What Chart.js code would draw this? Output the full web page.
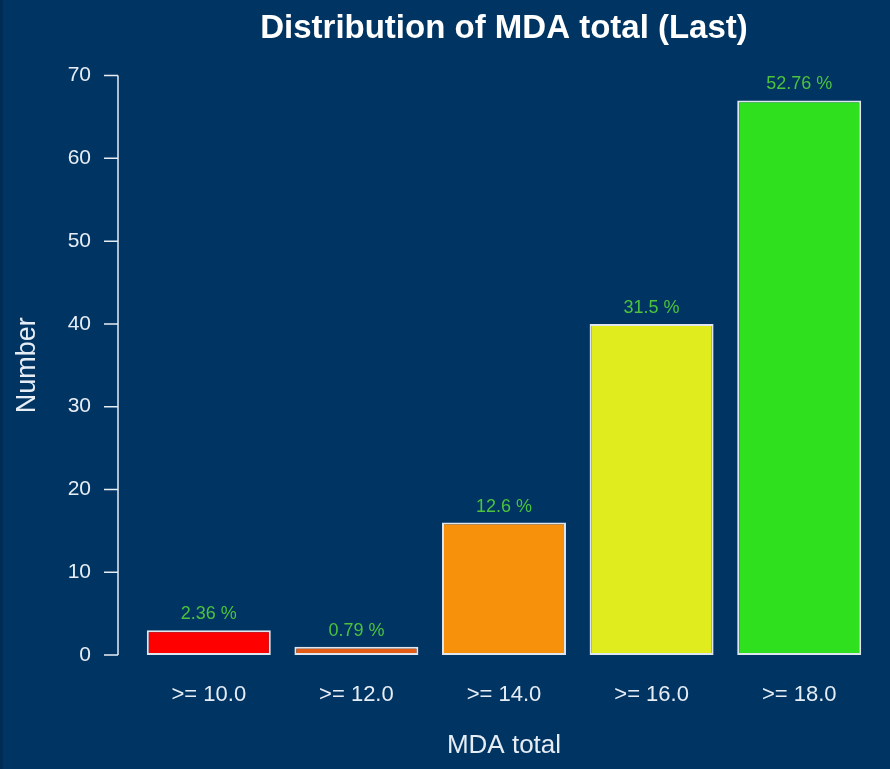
<!DOCTYPE html>
<html>
<head>
<meta charset="utf-8">
<script src="https://cdn.jsdelivr.net/npm/chart.js@4/dist/chart.umd.min.js"></script>
<style>
  html, body { margin: 0; padding: 0; background: #003462; }
  #wrap { width: 890px; height: 769px; position: relative; }
  #wrap::before { content: ""; position: absolute; left: 0; top: 0; width: 3px; height: 769px; background: #002b55; }
</style>
</head>
<body>
<div id="wrap"><canvas id="c" width="890" height="769"></canvas></div>
<script>
const categories = [">= 10.0", ">= 12.0", ">= 14.0", ">= 16.0", ">= 18.0"];
const counts = [3, 1, 16, 40, 67];
const percentLabels = ["2.36 %", "0.79 %", "12.6 %", "31.5 %", "52.76 %"];
const barColors = ["#ff0000", "#e35b14", "#f7900a", "#e0ec1e", "#2ee01e"];
const yTicks = [0, 10, 20, 30, 40, 50, 60, 70];

const FONT = "'Liberation Sans', Arial, sans-serif";
const AXIS_COLOR = "#e6edf5";

const axisPlugin = {
  id: 'rAxis',
  afterDraw(chart) {
    const ctx = chart.ctx;
    const y = chart.scales.y;
    const xAxis = 118;
    ctx.save();
    ctx.strokeStyle = AXIS_COLOR;
    ctx.lineWidth = 1.5;
    ctx.beginPath();
    ctx.moveTo(xAxis, y.getPixelForValue(yTicks[0]));
    ctx.lineTo(xAxis, y.getPixelForValue(yTicks[yTicks.length - 1]));
    yTicks.forEach(v => {
      const py = y.getPixelForValue(v);
      ctx.moveTo(xAxis - 14, py);
      ctx.lineTo(xAxis, py);
    });
    ctx.stroke();
    ctx.restore();
  },
  afterDatasetsDraw(chart) {
    const ctx = chart.ctx;
    const meta = chart.getDatasetMeta(0);
    ctx.save();
    ctx.fillStyle = "#4cc23e";
    ctx.font = "18px " + FONT;
    ctx.textAlign = "center";
    ctx.textBaseline = "middle";
    meta.data.forEach((bar, i) => {
      ctx.fillText(percentLabels[i], bar.x, bar.y - 16);
    });
    ctx.restore();
  }
};

new Chart(document.getElementById('c'), {
  type: 'bar',
  data: {
    labels: categories,
    datasets: [{
      data: counts,
      backgroundColor: barColors,
      borderColor: "#dfe6ee",
      borderWidth: 2,
      borderSkipped: false,
      barPercentage: 0.84,
      categoryPercentage: 1.0
    }]
  },
  plugins: [axisPlugin],
  options: {
    responsive: false,
    animation: false,
    events: [],
    layout: { padding: { left: 0, right: 17, top: 0, bottom: 0 } },
    plugins: {
      legend: { display: false },
      tooltip: { enabled: false },
      title: {
        display: true,
        text: "Distribution of MDA total (Last)",
        color: "#ffffff",
        fullSize: false,
        font: { family: FONT, size: 33, weight: 'bold' },
        padding: { top: 9, bottom: 27 }
      }
    },
    scales: {
      x: {
        grid: { display: false, drawTicks: false },
        border: { display: false },
        ticks: { color: AXIS_COLOR, font: { family: FONT, size: 22 }, padding: 27, maxRotation: 0 },
        title: { display: true, text: "MDA total", color: AXIS_COLOR, font: { family: FONT, size: 26 }, padding: { top: 0, bottom: 8 } },
        afterFit(scale) { scale.height = 114; }
      },
      y: {
        min: 0, max: 70,
        grid: { display: false, drawTicks: false },
        border: { display: false },
        afterBuildTicks(scale) { scale.ticks = yTicks.map(v => ({ value: v })); },
        ticks: { color: AXIS_COLOR, font: { family: FONT, size: 21 }, padding: 44 },
        title: { display: true, text: "Number", color: AXIS_COLOR, font: { family: FONT, size: 27 }, padding: { top: 11, bottom: 0 } },
        afterFit(scale) { scale.width = 135; }
      }
    }
  }
});
</script>
</body>
</html>
